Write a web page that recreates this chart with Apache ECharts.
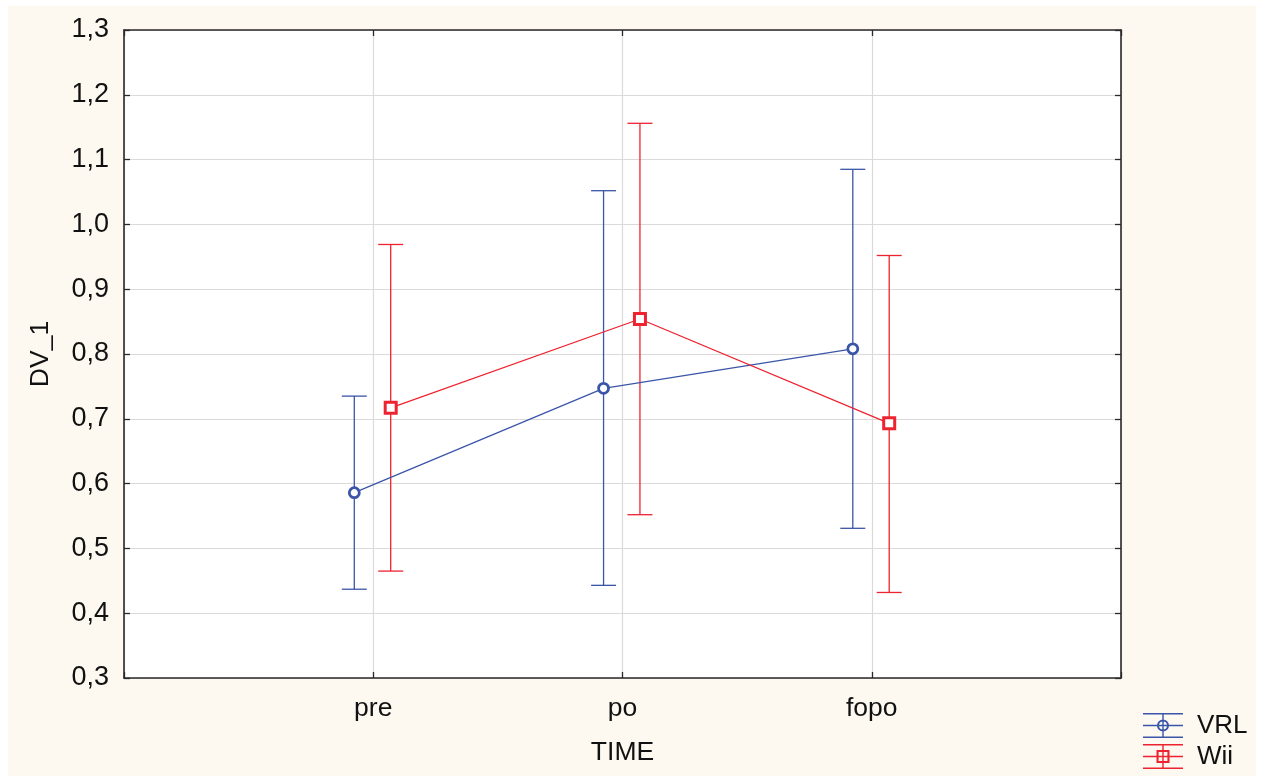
<!DOCTYPE html>
<html>
<head>
<meta charset="utf-8">
<script src="https://cdn.jsdelivr.net/npm/echarts@6/dist/echarts.min.js"></script>
<style>
  html, body { margin: 0; padding: 0; background: #ffffff; }
  #chart { position: absolute; left: 8px; top: 6px; width: 1248px; height: 770px; background: #fdf9f1; }
</style>
</head>
<body>
<div id="chart"></div>
<script>
var categories = ['pre', 'po', 'fopo'];
var vrlMean = [0.586, 0.747, 0.808];
var vrlLow  = [0.437, 0.443, 0.531];
var vrlHigh = [0.735, 1.052, 1.085];
var wiiMean = [0.717, 0.854, 0.693];
var wiiLow  = [0.465, 0.552, 0.432];
var wiiHigh = [0.969, 1.156, 0.952];
var yTicks = [0.3, 0.4, 0.5, 0.6, 0.7, 0.8, 0.9, 1.0, 1.1, 1.2, 1.3];

var BLUE = '#3b55a8';
var RED = '#ee2330';
var vrlOffset = -0.076;
var wiiOffset = 0.07;

function pts(mean, offset) {
  return mean.map(function (v, i) { return [i + 1 + offset, v]; });
}
function bars(low, high, offset) {
  return low.map(function (v, i) { return [i + 1 + offset, v, high[i]]; });
}
function errRender(color) {
  return function (params, api) {
    var x = api.value(0);
    var lo = api.coord([x, api.value(1)]);
    var hi = api.coord([x, api.value(2)]);
    var hw = 12.5;
    var st = { stroke: color, lineWidth: 1.3 };
    return {
      type: 'group',
      children: [
        { type: 'line', shape: { x1: lo[0], y1: lo[1], x2: hi[0], y2: hi[1] }, style: st },
        { type: 'line', shape: { x1: lo[0] - hw, y1: lo[1], x2: lo[0] + hw, y2: lo[1] }, style: st },
        { type: 'line', shape: { x1: hi[0] - hw, y1: hi[1], x2: hi[0] + hw, y2: hi[1] }, style: st }
      ]
    };
  };
}

var frame = 'M0,0 L40,0 L40,1.4 L0,1.4 Z M0,11.8 L40,11.8 L40,13.2 L0,13.2 Z M0,23.6 L40,23.6 L40,25 L0,25 Z M19.3,0 L20.7,0 L20.7,25 L19.3,25 Z ';
var iconVRL = 'path://' + frame +
  'M26,12.5 A6,6 0 1,1 14,12.5 A6,6 0 1,1 26,12.5 Z M24,12.5 A4,4 0 1,0 16,12.5 A4,4 0 1,0 24,12.5 Z';
var iconWii = 'path://' + frame +
  'M13.5,6 L26.5,6 L26.5,19 L13.5,19 Z M15.6,8.1 L15.6,16.9 L24.4,16.9 L24.4,8.1 Z';

var FONT = '"Liberation Sans", Arial, sans-serif';
var chart = echarts.init(document.getElementById('chart'));
chart.setOption({
  animation: false,
  backgroundColor: '#fdf9f1',
  textStyle: { fontFamily: FONT },
  grid: { left: 116, top: 24, right: 135, bottom: 98, show: true, backgroundColor: '#ffffff', borderWidth: 0 },
  legend: {
    orient: 'vertical',
    left: 1135, top: 706.5,
    padding: 0,
    itemGap: 5,
    itemWidth: 40, itemHeight: 25,
    itemStyle: { borderWidth: 0 },
    textStyle: { fontSize: 26, color: '#111', fontFamily: FONT, lineHeight: 26, padding: [0, 0, 0, 9] },
    data: [ { name: 'VRL', icon: iconVRL }, { name: 'Wii', icon: iconWii } ]
  },
  xAxis: [
    {
      type: 'value', min: 0, max: 4, interval: 1,
      name: 'TIME', nameLocation: 'middle', nameGap: 61,
      nameTextStyle: { fontSize: 26.5, color: '#111', fontFamily: FONT },
      axisLine: { show: true, onZero: false, lineStyle: { color: '#2a2a2a', width: 1.6 } },
      axisTick: { show: true, inside: true, length: 6, lineStyle: { color: '#2a2a2a', width: 1.3 } },
      axisLabel: {
        fontSize: 26.5, color: '#111', margin: 17, fontFamily: FONT,
        formatter: function (v) { return (v >= 1 && v <= categories.length) ? categories[v - 1] : ''; }
      },
      splitLine: { show: true, lineStyle: { color: '#dadada', width: 1.2 } }
    },
    {
      type: 'value', min: 0, max: 4, interval: 1, position: 'top',
      axisLine: { show: true, onZero: false, lineStyle: { color: '#2a2a2a', width: 1.6 } },
      axisTick: { show: true, inside: true, length: 6, lineStyle: { color: '#2a2a2a', width: 1.3 } },
      axisLabel: { show: false },
      splitLine: { show: false }
    }
  ],
  yAxis: [
    {
      type: 'value', min: 0.3, max: 1.3, interval: 0.1,
      name: 'DV_1', nameLocation: 'middle', nameGap: 70,
      nameTextStyle: { fontSize: 26.5, color: '#111', fontFamily: FONT },
      axisLine: { show: true, onZero: false, lineStyle: { color: '#2a2a2a', width: 1.6 } },
      axisTick: { show: true, inside: true, length: 6, lineStyle: { color: '#2a2a2a', width: 1.3 } },
      axisLabel: {
        fontSize: 27, color: '#111', margin: 15, fontFamily: FONT,
        formatter: function (v) { return v.toFixed(1).replace('.', ','); }
      },
      splitLine: { show: true, lineStyle: { color: '#dadada', width: 1.2 } }
    },
    {
      type: 'value', min: 0.3, max: 1.3, interval: 0.1, position: 'right',
      axisLine: { show: true, onZero: false, lineStyle: { color: '#2a2a2a', width: 1.6 } },
      axisTick: { show: true, inside: true, length: 6, lineStyle: { color: '#2a2a2a', width: 1.3 } },
      axisLabel: { show: false },
      splitLine: { show: false }
    }
  ],
  series: [
    { name: 'VRL', type: 'custom', itemStyle: { color: BLUE }, renderItem: errRender(BLUE),
      data: bars(vrlLow, vrlHigh, vrlOffset), encode: { x: 0, y: [1, 2] }, z: 2 },
    { name: 'Wii', type: 'custom', itemStyle: { color: RED }, renderItem: errRender(RED),
      data: bars(wiiLow, wiiHigh, wiiOffset), encode: { x: 0, y: [1, 2] }, z: 2 },
    { name: 'VRL', type: 'line', data: pts(vrlMean, vrlOffset), symbol: 'circle', symbolSize: 10,
      lineStyle: { color: BLUE, width: 1.3 },
      itemStyle: { color: '#ffffff', borderColor: BLUE, borderWidth: 2.8 }, z: 3 },
    { name: 'Wii', type: 'line', data: pts(wiiMean, wiiOffset), symbol: 'rect', symbolSize: 11,
      lineStyle: { color: RED, width: 1.3 },
      itemStyle: { color: '#ffffff', borderColor: RED, borderWidth: 3 }, z: 3 }
  ]
});
</script>
</body>
</html>
